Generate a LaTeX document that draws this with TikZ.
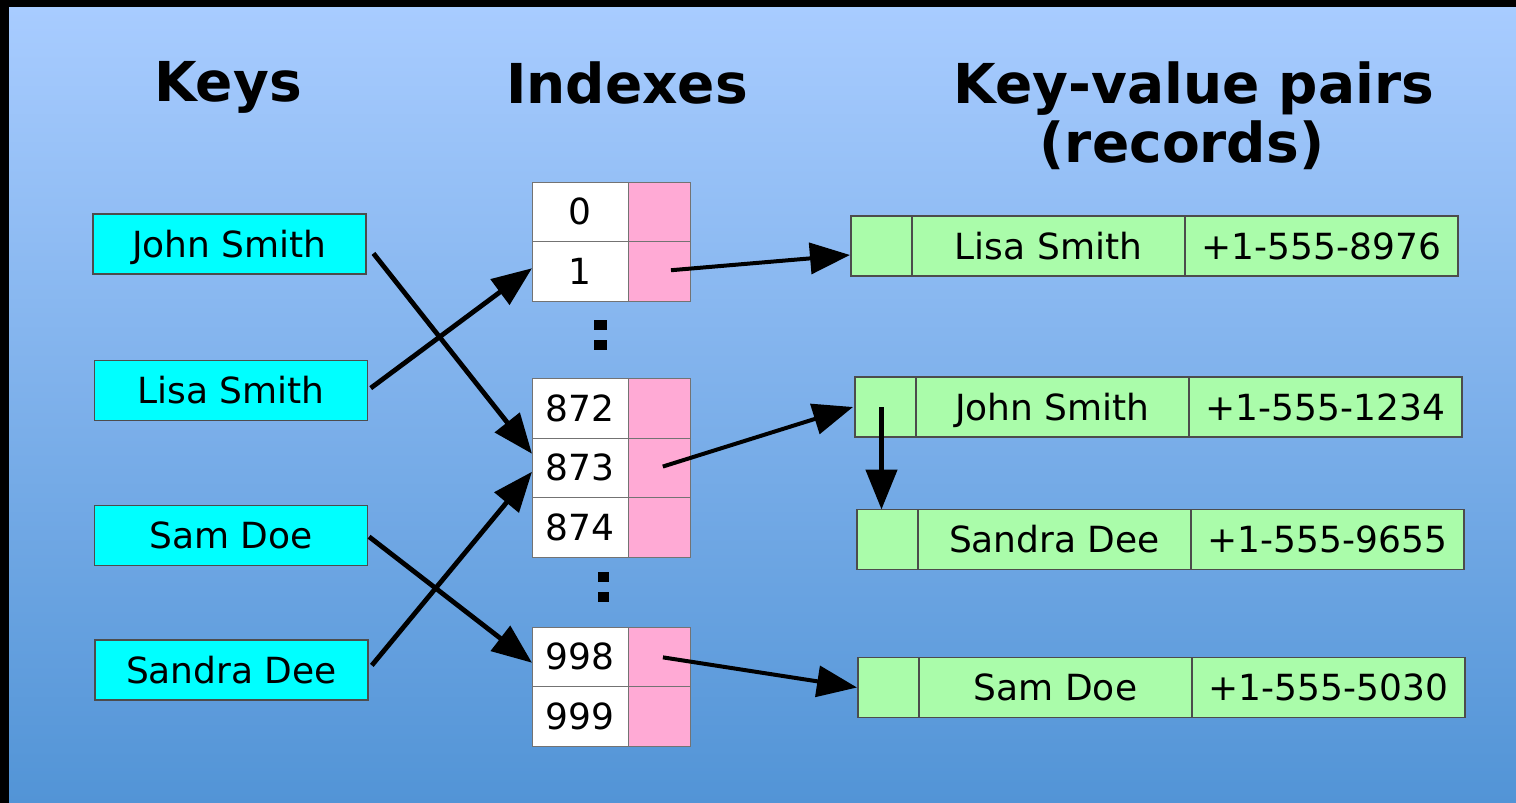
\documentclass[tikz,border=0pt]{standalone}
\usepackage{fontspec}
\setmainfont{DejaVu Sans}
\usetikzlibrary{arrows.meta,positioning,calc}
\definecolor{bgtop}{RGB}{168,204,255}
\definecolor{bgbot}{RGB}{82,148,214}
\definecolor{keycyan}{RGB}{0,255,255}
\definecolor{ptrpink}{RGB}{255,170,213}
\definecolor{recgreen}{RGB}{170,252,170}
\begin{document}
\begin{tikzpicture}[x=0.5pt,y=-0.5pt,
    title/.style={font=\fontsize{27.5}{32}\selectfont\bfseries, anchor=base, inner sep=0pt},
    cell/.style={draw=black!55, line width=0.5pt, outer sep=0pt, inner sep=0pt,
      font=\fontsize{18}{21}\selectfont, text height=13.1pt, text depth=0pt},
    keybox/.style={cell, fill=keycyan, draw=black!70, line width=0.7pt, minimum width=136.5pt, minimum height=30pt},
    idxcell/.style={cell, fill=white, minimum width=48pt, minimum height=29.75pt},
    ptrcell/.style={cell, fill=ptrpink, minimum width=31pt, minimum height=29.75pt},
    reccell/.style={cell, fill=recgreen, draw=black!70, line width=0.7pt, minimum width=136.5pt, minimum height=30pt},
    ptr/.style={-{Triangle[length=20pt,width=15.5pt]}, line width=2.4pt},
    ptrthin/.style={-{Triangle[length=20pt,width=15.5pt]}, line width=2pt}]
  \useasboundingbox (0,0) rectangle (1516,803);
  \fill [black] (0,0) rectangle (1516,803);
  \shade [top color=bgtop, bottom color=bgbot] (9,7) rectangle (1516,803);

  \node [title] (keys) at (228,101) {Keys};
  \node [title] (indexes) at (627,103) {Indexes};
  \node [title] (pairs) at (1194,103) {Key-value pairs};
  \node [title] (records) at (1182,162) {(records)};

  \node [keybox] (jk) at (229.5,244) {John Smith};
  \node [keybox] (lk) at (231,390.5) {Lisa Smith};
  \node [keybox] (sk) at (231,535.5) {Sam Doe};
  \node [keybox] (dk) at (231.5,670) {Sandra Dee};

  \foreach \n/\y in {0/211.75, 1/271.25, 872/408.25, 873/467.75, 874/527.25, 998/656.75, 999/716.25} {
    \node [idxcell] (i\n) at (580,\y) {\n};
    \node [ptrcell, right=0pt of i\n] (p\n) {};
  }
  \fill (594,320) rectangle (607,330);
  \fill (594,340) rectangle (607,350);
  \fill (598,572) rectangle (609,582);
  \fill (598,592) rectangle (609,602);

  \foreach \n/\name/\phone/\x/\y in {ls/Lisa Smith/+1-555-8976/851/246,
      js/John Smith/+1-555-1234/855/407, sd/Sandra Dee/+1-555-9655/857/539.5,
      sm/Sam Doe/+1-555-5030/858/687.5} {
    \node [reccell, minimum width=30.5pt, anchor=west] (\n) at (\x,\y) {};
    \node [reccell, right=0pt of \n] (\n n) {\name};
    \node [reccell, right=0pt of \n n] (\n p) {\phone};
  }
  \coordinate (jsdown) at ($(js.center)+(-4,0)$);

  \draw [ptr, shorten <=6pt] (jk.east) -- ($(i873.west)+(0,-14)$);
  \draw [ptr, shorten <=2pt] (lk.east) -- ($(i1.west)+(0,-3)$);
  \draw [ptr, shorten <=1pt] (sk.east) -- ($(i998.west)+(0,6)$);
  \draw [ptr, shorten <=3pt] (dk.east) -- ($(i873.west)+(0,4)$);
  \draw [ptrthin, shorten <=6pt] (p1.center) -- ($(ls.west)+(-1,9)$);
  \draw [ptrthin, shorten <=2pt] (p873.center) -- ($(js.west)+(-2,0)$);
  \draw [ptrthin, shorten <=2pt] (p998.center) -- ($(sm.west)+(-1,0)$);
  \draw [ptr] (jsdown) -- (jsdown |- sd.north);
\end{tikzpicture}
\end{document}
